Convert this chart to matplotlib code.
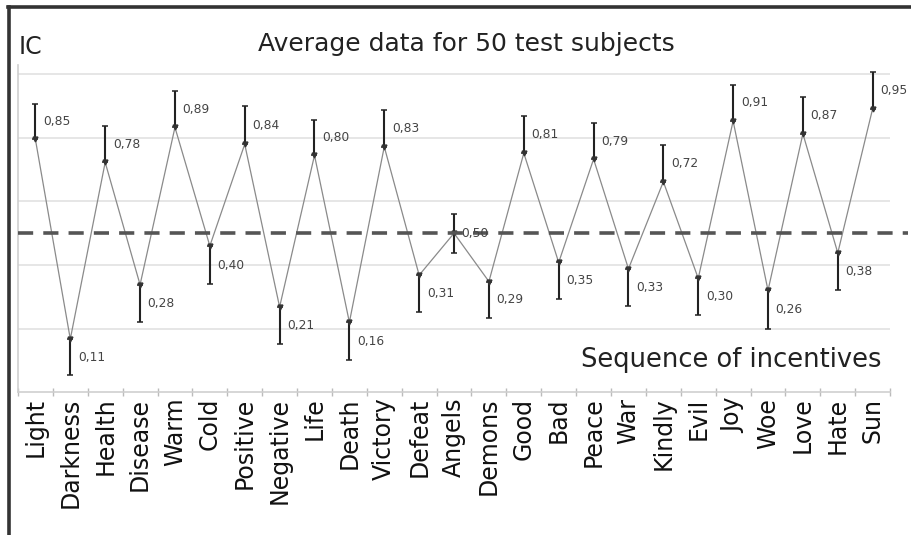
import matplotlib.pyplot as plt
from matplotlib.lines import Line2D
import numpy as np

# Stimuli in presentation order
stimuli = ["Light", "Darkness", "Health", "Disease", "Warm", "Cold",
           "Positive", "Negative", "Life", "Death", "Victory", "Defeat",
           "Angels", "Demons", "Good", "Bad", "Peace", "War", "Kindly",
           "Evil", "Joy", "Woe", "Love", "Hate", "Sun"]

# Average IC per stimulus (50 subjects)
ic = [0.85, 0.11, 0.78, 0.28, 0.89, 0.40, 0.84, 0.21, 0.80, 0.16,
      0.83, 0.31, 0.50, 0.29, 0.81, 0.35, 0.79, 0.33, 0.72, 0.30,
      0.91, 0.26, 0.87, 0.38, 0.95]

# half length of the error bars
err = [0.055, 0.057, 0.057, 0.058, 0.057, 0.06, 0.06, 0.058, 0.055, 0.06,
       0.058, 0.058, 0.062, 0.058, 0.058, 0.058, 0.057, 0.058, 0.058, 0.058,
       0.057, 0.06, 0.057, 0.058, 0.058]

baseline = 0.50  # Angels level, dashed line

plt.rcParams['font.family'] = ['DejaVu Sans']

x = np.arange(len(stimuli))
ic_a = np.array(ic)
err_a = np.array(err)

# the zigzag joins the inner ends of the bars (peaks: bottom, troughs: top)
left = np.r_[ic_a[1], ic_a[:-1]]
right = np.r_[ic_a[1:], ic_a[-2]]
peak = (ic_a > left) & (ic_a > right)
trough = (ic_a < left) & (ic_a < right)
joint = ic_a - err_a * peak + err_a * trough
joint[stimuli.index("Angels")] = ic_a[stimuli.index("Angels")]

fig = plt.figure(figsize=(9.12, 5.35), dpi=100)
ax = fig.add_axes([0.0197, 0.267, 0.9563, 0.612])

ax.set_xlim(-0.5, len(stimuli) - 0.5)
ax.set_ylim(0, 1.03)

for g in [0.2, 0.4, 0.6, 0.8, 1.0]:
    ax.axhline(g, color='#e4e4e4', lw=1.3, zorder=0)

ax.plot(x, joint, color='#8a8a8a', lw=0.9, zorder=2)
ax.errorbar(x, ic, yerr=err, fmt='none', ecolor='#222222', elinewidth=1.5,
            capsize=2.2, capthick=1.1, zorder=3)
ax.plot(x, joint, ls='none', marker='v', ms=3.5, color='#333333', zorder=3)

ax.axhline(baseline, xmin=0, xmax=1.02, color='#555555', lw=2.6,
           dashes=(4.2, 2.8), clip_on=False, zorder=4)

for xi, v in zip(x, ic):
    ax.text(xi + 0.22, v, f"{v:.2f}".replace('.', ','), fontsize=8.8,
            color='#444444', va='center', ha='left', zorder=5)

for s in ['top', 'right']:
    ax.spines[s].set_visible(False)
for s in ['left', 'bottom']:
    ax.spines[s].set_color('#cfcfcf')
    ax.spines[s].set_linewidth(1.2)

ax.set_yticks([])
ax.set_xticks(x)
ax.set_xticklabels(stimuli, rotation=90, fontsize=17, color='#111111')
ax.tick_params(axis='x', which='major', length=0, pad=4)
ax.set_xticks(np.arange(-0.5, len(stimuli)), minor=True)
ax.tick_params(axis='x', which='minor', length=6, direction='inout',
               color='#bbbbbb', width=1)

fig.text(0.511, 0.918, "Average data for 50 test subjects", fontsize=18,
         ha='center', va='center', color='#222222')
fig.text(0.02, 0.912, "IC", fontsize=17, ha='left', va='center',
         color='#222222')
fig.text(0.967, 0.327, "Sequence of incentives", fontsize=18.5, ha='right',
         va='center', color='#222222')

# frame of the original screenshot
fig.add_artist(Line2D([0.009, 1.0], [0.987, 0.987], color='#333333', lw=2.6))
fig.add_artist(Line2D([0.0099, 0.0099], [0.0, 0.987], color='#333333', lw=2.6))

fig.savefig('out.png', dpi=100)
